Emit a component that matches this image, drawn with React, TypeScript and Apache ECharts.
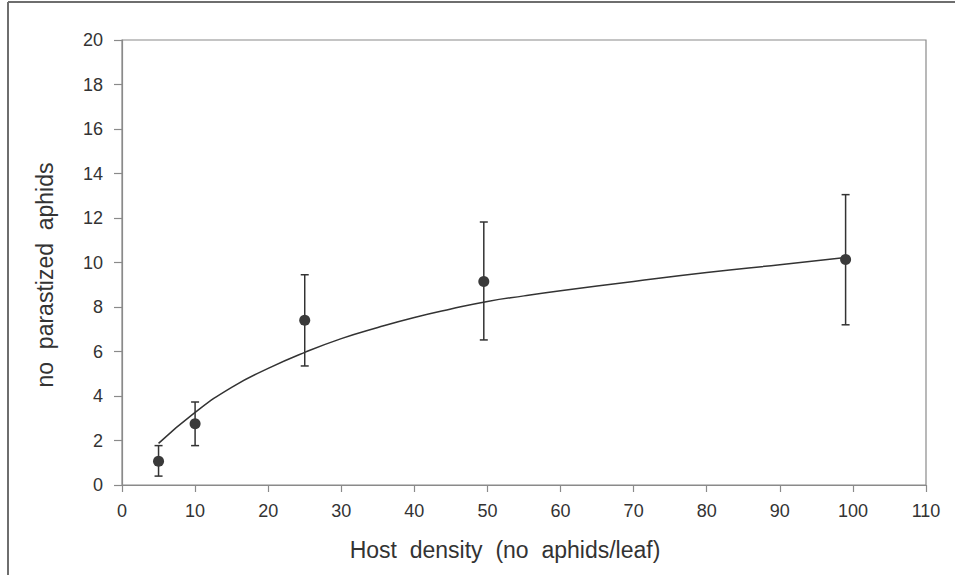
import React, { useEffect, useRef } from "react";
import * as echarts from "echarts";

const xTicks = [0, 10, 20, 30, 40, 50, 60, 70, 80, 90, 100, 110];
const hostDensity = [5, 10, 25, 49.5, 99];
const meanParasitized = [1.07, 2.75, 7.4, 9.15, 10.13];
const errLow = [0.4, 1.77, 5.35, 6.52, 7.2];
const errHigh = [1.77, 3.73, 9.45, 11.82, 13.05];
const curveX = [5, 10, 15, 20, 25, 30, 35, 40, 45, 50, 55, 60, 70, 80, 90, 99];
const curveY = [1.87, 3.26, 4.39, 5.24, 5.96, 6.58, 7.08, 7.53, 7.91, 8.25, 8.5, 8.73, 9.15, 9.55, 9.9, 10.22];

const FONT = "'Liberation Sans', Arial, sans-serif";
const TEXT = "#333";
const AXIS = "#8a8a8a";

export default function App() {
  const ref = useRef<HTMLDivElement>(null);
  useEffect(() => {
    if (!ref.current) return;
    const chart = echarts.init(ref.current, undefined, { renderer: "svg" });
    chart.setOption({
      animation: false,
      backgroundColor: "#fff",
      grid: { left: 122, right: 29, top: 40, bottom: 90, show: true, borderColor: AXIS, borderWidth: 1.2, backgroundColor: "transparent" },
      xAxis: {
        type: "value",
        min: xTicks[0],
        max: xTicks[xTicks.length - 1],
        interval: 10,
        name: "Host  density  (no  aphids/leaf)",
        nameLocation: "middle",
        nameGap: 53,
        nameTextStyle: { fontFamily: FONT, fontSize: 23, color: TEXT, padding: [0, 38, 0, 0] },
        axisLine: { show: true, lineStyle: { color: AXIS, width: 1.2 } },
        axisTick: { show: true, length: 7, lineStyle: { color: AXIS, width: 1.2 } },
        axisLabel: { margin: 17, fontFamily: FONT, fontSize: 18, color: TEXT },
        splitLine: { show: false },
      },
      yAxis: {
        type: "value",
        min: 0,
        max: 20,
        interval: 2,
        name: "no  parastized  aphids",
        nameLocation: "middle",
        nameGap: 66,
        nameTextStyle: { fontFamily: FONT, fontSize: 23, color: TEXT, padding: [0, 25, 0, 0] },
        axisLine: { show: true, lineStyle: { color: AXIS, width: 1.2 } },
        axisTick: { show: true, length: 8, lineStyle: { color: AXIS, width: 1.2 } },
        axisLabel: { margin: 19, fontFamily: FONT, fontSize: 18, color: TEXT },
        splitLine: { show: false },
      },
      graphic: [
        { type: "line", shape: { x1: 8, y1: 2, x2: 955, y2: 2 }, style: { stroke: "#6e6e6e", lineWidth: 2 } },
        { type: "line", shape: { x1: 8, y1: 2, x2: 8, y2: 575 }, style: { stroke: "#6e6e6e", lineWidth: 2 } },
      ],
      series: [
        {
          type: "line",
          smooth: true,
          symbol: "none",
          data: curveX.map((x, i) => [x, curveY[i]]),
          lineStyle: { color: "#333", width: 1.5 },
          z: 2,
        },
        {
          type: "custom",
          data: hostDensity.map((x, i) => [x, errLow[i], errHigh[i]]),
          encode: { x: 0, y: [1, 2] },
          renderItem: (params: any, api: any) => {
            const x = api.value(0);
            const top = api.coord([x, api.value(2)]);
            const bot = api.coord([x, api.value(1)]);
            const cap = 4;
            const st = { stroke: "#333", lineWidth: 1.5 };
            return {
              type: "group",
              children: [
                { type: "line", shape: { x1: top[0], y1: top[1], x2: bot[0], y2: bot[1] }, style: st },
                { type: "line", shape: { x1: top[0] - cap, y1: top[1], x2: top[0] + cap, y2: top[1] }, style: st },
                { type: "line", shape: { x1: bot[0] - cap, y1: bot[1], x2: bot[0] + cap, y2: bot[1] }, style: st },
              ],
            };
          },
          z: 3,
        },
        {
          type: "scatter",
          symbol: "circle",
          symbolSize: 11,
          data: hostDensity.map((x, i) => [x, meanParasitized[i]]),
          itemStyle: { color: "#3a3a3a", opacity: 1 },
          z: 4,
        },
      ],
    });
    return () => chart.dispose();
  }, []);
  return <div ref={ref} style={{ width: 955, height: 575, position: "absolute", left: 0, top: 0 }} />;
}
